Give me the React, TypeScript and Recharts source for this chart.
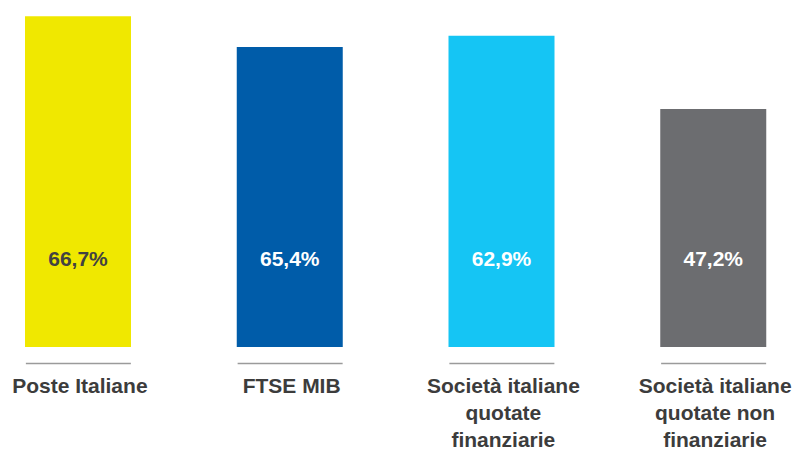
import { BarChart, Bar, XAxis, YAxis, Cell, LabelList } from 'recharts'

const categories = [
  'Poste Italiane',
  'FTSE MIB',
  'Società italiane\nquotate\nfinanziarie',
  'Società italiane\nquotate non\nfinanziarie',
]
// bar lengths as drawn in the picture (the FTSE bar is drawn shorter than its label says)
const barValues = [66.7, 60.5, 62.8, 48.0]
const valueLabels = ['66,7%', '65,4%', '62,9%', '47,2%']
const barColors = ['#f0e800', '#005ca9', '#15c5f4', '#6c6d70']
const labelColors = ['#424242', '#ffffff', '#ffffff', '#ffffff']

const FONT = '"Liberation Sans", Arial, Helvetica, sans-serif'

const data = categories.map((name, i) => ({
  name,
  value: barValues[i],
  label: valueLabels[i],
}))

function CategoryTick(props: any) {
  const { x, y, payload } = props
  const lines = String(payload.value).split('\n')
  return (
    <g>
      <line x1={x - 52} x2={x + 53} y1={y + 16.5} y2={y + 16.5} stroke="#9b9b9b" strokeWidth={1.6} />
      {lines.map((l, i) => (
        <text
          key={i}
          x={x + 2}
          y={y + 46 + i * 27}
          textAnchor="middle"
          fill="#3c3c3c"
          fontSize={21}
          fontWeight="bold"
          fontFamily={FONT}
        >
          {l}
        </text>
      ))}
    </g>
  )
}

function ValueLabel(props: any) {
  const { x, y, width, height, value, index } = props
  const i = typeof index === 'number' ? index : valueLabels.indexOf(value)
  return (
    <text
      x={x + width / 2}
      y={y + height - 81}
      textAnchor="middle"
      fill={labelColors[i] ?? '#fff'}
      fontSize={21}
      fontWeight="bold"
      fontFamily={FONT}
    >
      {value}
    </text>
  )
}

export default function App() {
  return (
    <div style={{ position: 'absolute', left: 0, top: 0, width: 796, height: 450, overflow: 'hidden', background: '#fff' }}>
      <div style={{ position: 'absolute', left: -28, top: 0 }}>
        <BarChart width={847} height={450} data={data} margin={{ top: 0, right: 0, bottom: 0, left: 0 }} barSize={106}>
          <XAxis
            dataKey="name"
            height={103}
            axisLine={false}
            tickLine={false}
            tickSize={0}
            tickMargin={0}
            interval={0}
            tick={<CategoryTick />}
          />
          <YAxis hide domain={[0, 70]} />
          <Bar dataKey="value" isAnimationActive={false}>
            {data.map((d, i) => (
              <Cell key={d.name} fill={barColors[i]} />
            ))}
            <LabelList dataKey="label" content={<ValueLabel />} />
          </Bar>
        </BarChart>
      </div>
    </div>
  )
}
